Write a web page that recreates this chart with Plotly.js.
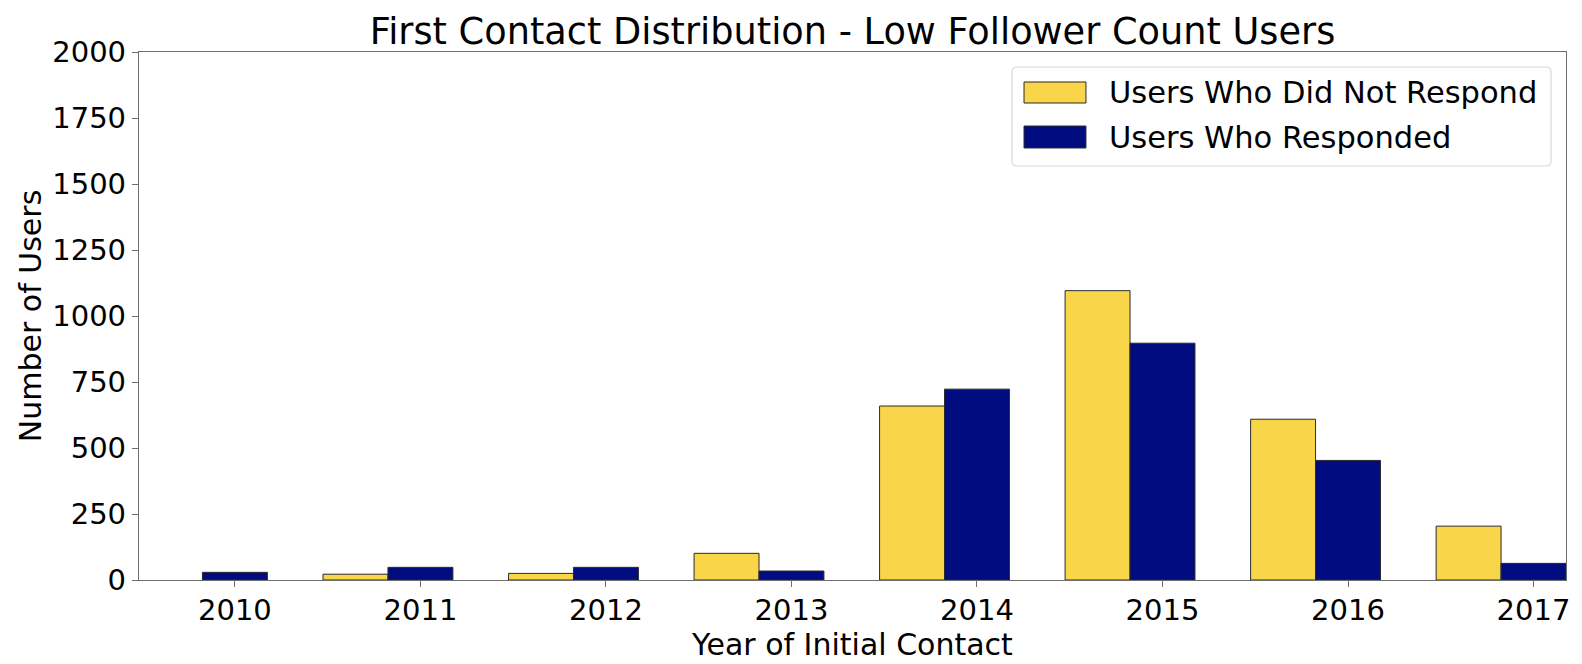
<!DOCTYPE html>
<html>
<head>
<meta charset="utf-8">
<script src="https://cdn.plot.ly/plotly-3.0.1.min.js"></script>
<style>
  html, body { margin: 0; padding: 0; background: #ffffff; }
  #chart { width: 1582px; height: 664px; }
</style>
</head>
<body>
<div id="chart"></div>
<script>
// ---- data ----
const years = [2010, 2011, 2012, 2013, 2014, 2015, 2016, 2017];
const notResponded = [0, 22, 25, 101, 659, 1096, 609, 204];
const responded = [29, 48, 48, 34, 723, 897, 453, 63];
const yTickVals = [0, 250, 500, 750, 1000, 1250, 1500, 1750, 2000];
const seriesNames = ['Users Who Did Not Respond', 'Users Who Responded'];
const titleText = 'First Contact Distribution - Low Follower Count Users';
const xTitleText = 'Year of Initial Contact';
const yTitleText = 'Number of Users';

// ---- styles ----
const yellow = '#F9D549';
const navy = '#000C80';
const edge = '#2b2b2b';
const spine = '#6e6e6e';
const font = 'DejaVu Sans, sans-serif';

const outline = vals => vals.map(v => (v > 0 ? 1 : 0));

const traces = [
  {
    type: 'bar', name: seriesNames[0], x: years, y: notResponded,
    width: 0.35, offset: -0.525,
    marker: { color: yellow, line: { color: edge, width: outline(notResponded) } },
    hoverinfo: 'x+y+name'
  },
  {
    type: 'bar', name: seriesNames[1], x: years, y: responded,
    width: 0.35, offset: -0.175,
    marker: { color: navy, line: { color: edge, width: outline(responded) } },
    hoverinfo: 'x+y+name'
  }
];

// legend drawn as shapes + text to match the wide swatches
const lx0 = 0.6118, lx1 = 0.9895, ly0 = 0.7841, ly1 = 0.9716;
const rx = 5 / 1427, ry = 5 / 528;
const legendPath =
  `M ${lx0 + rx},${ly0} L ${lx1 - rx},${ly0} Q ${lx1},${ly0} ${lx1},${ly0 + ry} ` +
  `L ${lx1},${ly1 - ry} Q ${lx1},${ly1} ${lx1 - rx},${ly1} ` +
  `L ${lx0 + rx},${ly1} Q ${lx0},${ly1} ${lx0},${ly1 - ry} ` +
  `L ${lx0},${ly0 + ry} Q ${lx0},${ly0} ${lx0 + rx},${ly0} Z`;

const shapes = [
  { type: 'path', xref: 'paper', yref: 'paper', path: legendPath,
    fillcolor: 'rgba(255,255,255,0.85)', line: { color: '#d9d9d9', width: 1.2 } },
  { type: 'rect', xref: 'paper', yref: 'paper', x0: 0.6202, x1: 0.6636, y0: 0.9034, y1: 0.9432,
    fillcolor: yellow, line: { color: edge, width: 1 } },
  { type: 'rect', xref: 'paper', yref: 'paper', x0: 0.6202, x1: 0.6636, y0: 0.8182, y1: 0.8598,
    fillcolor: navy, line: { color: edge, width: 1 } }
];

const annotations = [
  { xref: 'paper', yref: 'paper', x: 0.6783, y: 0.9233, xanchor: 'left', yanchor: 'middle',
    text: seriesNames[0], showarrow: false, font: { family: font, size: 30.5, color: '#000' } },
  { xref: 'paper', yref: 'paper', x: 0.6783, y: 0.8390, xanchor: 'left', yanchor: 'middle',
    text: seriesNames[1], showarrow: false, font: { family: font, size: 30.5, color: '#000' } }
];

const layout = {
  width: 1582, height: 664,
  margin: { l: 139, r: 16, t: 52, b: 84, pad: 0 },
  paper_bgcolor: '#ffffff', plot_bgcolor: '#ffffff',
  font: { family: font, color: '#000000' },
  barmode: 'overlay',
  showlegend: false,
  title: {
    text: titleText, font: { family: font, size: 36.7, color: '#000' },
    xref: 'paper', x: 0.5, xanchor: 'center',
    yref: 'container', y: 1 - 31 / 664, yanchor: 'middle'
  },
  xaxis: {
    range: [2009.483, 2017.175],
    tickmode: 'array', tickvals: years, ticktext: years.map(String),
    ticks: 'outside', ticklen: 6, tickwidth: 1.2, tickcolor: spine,
    showline: true, linecolor: spine, linewidth: 1.3, mirror: true,
    showgrid: false, zeroline: false,
    ticklabelstandoff: -2,
    tickfont: { family: font, size: 29, color: '#000' },
    title: { text: xTitleText, font: { family: font, size: 30, color: '#000' }, standoff: 0 },
    automargin: false
  },
  yaxis: {
    range: [0, 2000],
    tickmode: 'array', tickvals: yTickVals, ticktext: yTickVals.map(String),
    ticks: 'outside', ticklen: 6, tickwidth: 1.2, tickcolor: spine,
    showline: true, linecolor: spine, linewidth: 1.3, mirror: true,
    showgrid: false, zeroline: false,
    tickfont: { family: font, size: 29, color: '#000' },
    title: { text: yTitleText, font: { family: font, size: 30, color: '#000' }, standoff: 1 },
    automargin: false
  },
  shapes: shapes,
  annotations: annotations
};

Plotly.newPlot('chart', traces, layout, { displayModeBar: false, staticPlot: false });
</script>
</body>
</html>
